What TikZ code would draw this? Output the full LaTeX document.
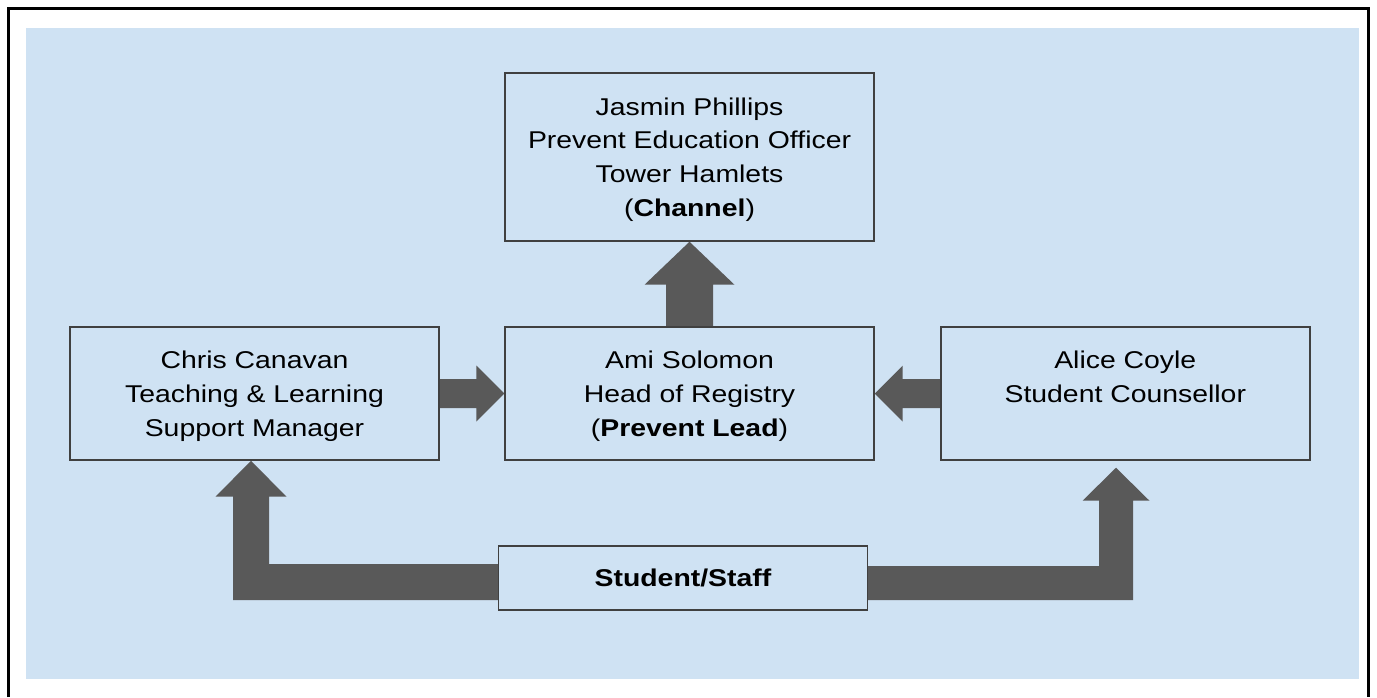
\documentclass[tikz,border=0pt]{standalone}
\usepackage{fontspec}
\setmainfont{Liberation Sans}[FakeStretch=1.17]
\usetikzlibrary{calc}
\definecolor{panel}{HTML}{CFE2F3}
\definecolor{arrowgray}{HTML}{595959}
\definecolor{edgegray}{HTML}{404040}
\pgfdeclarelayer{back}
\pgfsetlayers{back,main}
\begin{document}
\begin{tikzpicture}[x=0.75pt,y=-0.75pt,
  box/.style={draw=edgegray, line width=1.1pt, fill=panel, align=center,
    font=\fontsize{18.2}{25.3}\selectfont, text depth=0pt, inner sep=0pt,
    minimum width=276.75pt},
  flow/.style={fill=arrowgray, draw=none}]
\useasboundingbox (0,0) rectangle (1377,697);

% outer frame
\draw[line width=2.4pt] (8.7,697) -- (8.7,8.8) -- (1368.3,8.8) -- (1368.3,697);

% boxes
\node[box, minimum height=126pt] (chan) at (689.5,157)
  {Jasmin Phillips\\Prevent Education Officer\\Tower Hamlets\\(\textbf{Channel})};
\node[box, minimum height=99.75pt] (lead) at (689.5,393.5)
  {Ami Solomon\\Head of Registry\\(\textbf{Prevent Lead})};
\node[box, minimum height=99.75pt] (tl) at (254.5,393.5)
  {Chris Canavan\\Teaching \& Learning\\Support Manager};
\node[box, minimum height=99.75pt] (sc) at (1125.3,393.5)
  {Alice Coyle\\Student Counsellor\\\mbox{}};
\node[box, minimum height=48pt] (ss) at (683,578) {\textbf{Student/Staff}};

% connection points of the block arrows
\coordinate (tipL) at ($(tl.south)+(-3.5,0)$);
\coordinate (bandLt) at ($(ss.west)+(0,-14)$);
\coordinate (bandLb) at ($(ss.west)+(0,22)$);
\coordinate (shaftLi) at ($(tipL)+(18,36)$);
\coordinate (shaftLo) at ($(tipL)+(-18,36)$);
\coordinate (tipR) at ($(sc.south)+(-9.3,7)$);
\coordinate (bandRt) at ($(ss.east)+(0,-12)$);
\coordinate (bandRb) at ($(ss.east)+(0,22)$);
\coordinate (shaftRi) at ($(tipR)+(-17,33)$);
\coordinate (shaftRo) at ($(tipR)+(17,33)$);

\begin{pgfonlayer}{back}
  \fill[panel] (26,28) rectangle (1359,679);
  % Ami Solomon -> Channel
  \fill[flow] ($(lead.north)+(-23.5,0)$) -- ($(chan.south)+(-23.5,43)$)
    -- ($(chan.south)+(-45,43)$) -- (chan.south) -- ($(chan.south)+(45,43)$)
    -- ($(chan.south)+(23.5,43)$) -- ($(lead.north)+(23.5,0)$) -- cycle;
  % Chris Canavan -> Ami Solomon
  \fill[flow] ($(tl.east)+(0,-14.5)$) -- ($(lead.west)+(-28,-14.5)$)
    -- ($(lead.west)+(-28,-28)$) -- (lead.west) -- ($(lead.west)+(-28,28)$)
    -- ($(lead.west)+(-28,14.5)$) -- ($(tl.east)+(0,14.5)$) -- cycle;
  % Alice Coyle -> Ami Solomon
  \fill[flow] ($(sc.west)+(0,-14.5)$) -- ($(lead.east)+(28,-14.5)$)
    -- ($(lead.east)+(28,-28)$) -- (lead.east) -- ($(lead.east)+(28,28)$)
    -- ($(lead.east)+(28,14.5)$) -- ($(sc.west)+(0,14.5)$) -- cycle;
  % Student/Staff -> Chris Canavan
  \fill[flow] (bandLt) -- (shaftLi |- bandLt) -- (shaftLi)
    -- ($(tipL)+(35.5,36)$) -- (tipL) -- ($(tipL)+(-35.5,36)$)
    -- (shaftLo) -- (shaftLo |- bandLb) -- (bandLb) -- cycle;
  % Student/Staff -> Alice Coyle
  \fill[flow] (bandRt) -- (shaftRi |- bandRt) -- (shaftRi)
    -- ($(tipR)+(-33.5,33)$) -- (tipR) -- ($(tipR)+(33.5,33)$)
    -- (shaftRo) -- (shaftRo |- bandRb) -- (bandRb) -- cycle;
\end{pgfonlayer}
\end{tikzpicture}
\end{document}
